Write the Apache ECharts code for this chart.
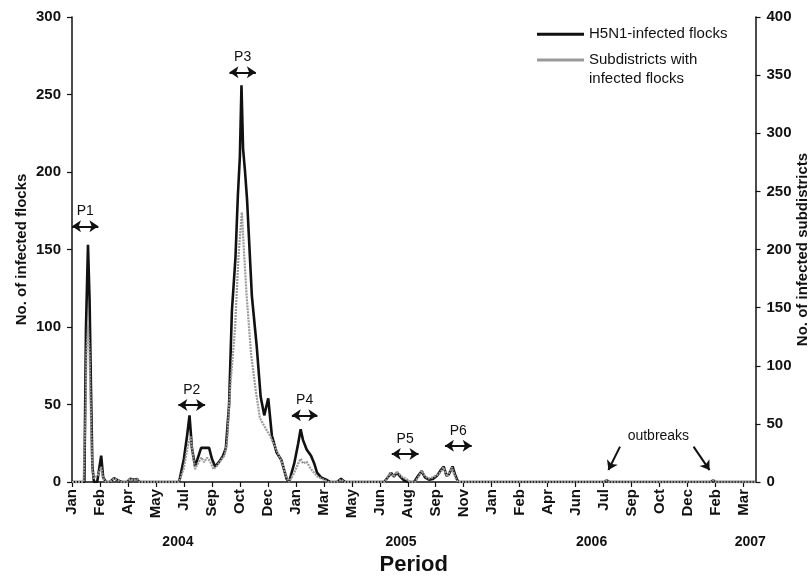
<!DOCTYPE html>
<html>
<head>
<meta charset="utf-8">
<script src="https://cdn.jsdelivr.net/npm/echarts@6/dist/echarts.min.js"></script>
<style>html,body{margin:0;padding:0;background:#fff}#c{width:812px;height:580px}</style>
</head>
<body>
<div id="c"></div>
<script>
// ---- tick labels ----
const monthLabels = ['Jan','Feb','Apr','May','Jul','Sep','Oct','Dec','Jan','Mar','May','Jun','Aug','Sep','Nov','Jan','Feb','Apr','Jun','Jul','Sep','Oct','Dec','Feb','Mar'];
const monthTickWeeks = [0,7,14,21,28,35,42,49,56,63,70,77,84,91,98,105,112,119,126,133,140,147,154,161,168];
const yearLabels = ['2004','2005','2006','2007'];
const yearLabelWeeks = [26.5, 82.3, 130.0, 169.7];

// ---- series: [week since Jan 2004, value] ----
const flocks = [
  [0,0],[3.1,0],[3.5,100],[4.0,153],[4.4,117],[4.75,60],[5.1,10],[5.5,0],[6.3,0],[7.3,17],[7.8,3],[8.5,0],
  [9.5,0],[10.5,2.5],[11.5,1],[12.5,0],[13.8,0],[14.5,2],[15.5,1.5],[16.3,2],[16.8,0],
  [26.8,0],[28.0,15],[28.8,30],[29.4,43],[30.0,22],[30.8,10],[31.8,18],[32.3,22],[34.3,22],[35.0,15],[35.8,10],
  [36.8,13],[37.8,17],[38.5,22],[39.3,50],[40.0,110],[40.9,145],[41.5,185],[42.0,210],[42.4,256],[42.8,215],
  [43.3,200],[43.8,182],[45.0,120],[46.2,88],[47.2,55],[48.1,43],[49.1,54],[50.0,30],[51.2,19],[52.4,14],[53.7,2],
  [54.3,0],[55.6,12],[56.6,25],[57.2,34],[57.8,27],[58.7,21],[59.8,17],[60.6,12],[61.3,6],[62.3,3],[63.6,1.5],[64.6,0],
  [66.3,0],[67.3,2],[68.3,0],
  [78.1,0],[79.3,4],[79.8,6],[80.5,3.5],[81.3,6],[82.3,3],[83.1,1],[84.1,0],[85.6,0],[86.6,4],[87.5,7],[88.3,3],
  [89.3,1.5],[90.3,2],[91.3,4],[92.1,7],[93.0,10],[93.7,4],[94.3,5],[95.2,10],[95.8,5],[96.6,0],
  [133.2,0],[133.8,1],[134.4,0],[159.8,0],[160.4,1],[161.0,0],[171,0]
];
const subdistricts = [
  [0,0],[2.9,0],[3.4,60],[3.6,110],[4.0,135],[4.4,110],[4.75,55],[5.1,10],[5.5,3],[6.0,2],[6.5,6],[7.3,13],[7.8,3],[8.5,0],
  [9.5,0],[10.5,3],[11.5,1.5],[12.5,0],[13.8,0],[14.5,2.5],[15.5,1.5],[16.3,2.5],[16.8,0],
  [26.8,0],[28.0,12],[28.9,30],[29.7,39],[30.3,22],[30.8,11],[31.5,16],[32.4,21],[33.0,17],[33.8,21],[34.5,18],
  [35.4,11],[36.3,14],[37.3,19],[38.2,23],[38.8,35],[39.5,77],[40.8,133],[41.6,191],[42.2,220],[42.5,232],
  [43.0,200],[43.7,160],[44.8,110],[46.0,78],[47.0,55],[48.3,47],[49.5,40],[51.1,28],[52.5,17],[53.6,5],
  [54.3,0],[55.6,8],[56.6,16],[57.2,20],[57.8,16],[58.7,17.5],[59.6,12],[60.3,9],[61.3,5],[62.1,3.4],[63.3,1.5],[64.1,0],
  [66.3,0],[67.3,2],[68.3,0],
  [78.3,0],[79.6,8],[80.4,4.6],[81.3,9],[82.5,4.6],[83.8,2.3],[84.6,0],[85.8,0],[86.6,4],[87.5,9.7],[88.3,5],
  [89.2,3],[90.3,4],[91.3,6],[92.1,8],[92.9,12.6],[93.9,4.6],[95.0,12.6],[96.1,2.3],[96.6,0],
  [133.1,0],[133.8,1.5],[134.4,0],[159.8,0],[160.4,1.5],[161.0,0],[171,0]
];

// ---- annotations ----
const periodNames = ['P1','P2','P3','P4','P5','P6'];
const periodStart = [0, 26.6, 39.4, 55.0, 80.0, 93.3];
const periodEnd   = [6.6, 33.3, 46.0, 61.4, 86.7, 100.0];
const periodLevel = [165, 49.7, 264.3, 43, 18, 23.4];
const outbreakArrowsFrom = [[137.1, 22.8],[155.5, 22.8]];
const outbreakArrowsTo   = [[134.2, 7.7],[159.5, 7.7]];
const outbreakLabelAt = [146.7, 29.7];

const FONT = 'Liberation Sans, Arial, sans-serif';
const chart = echarts.init(document.getElementById('c'));

const markLines = [];
periodNames.forEach((n, i) => {
  markLines.push([
    {name: n, coord: [periodStart[i], periodLevel[i]], symbol: 'arrow'},
    {coord: [periodEnd[i], periodLevel[i]], symbol: 'arrow'}
  ]);
});
outbreakArrowsFrom.forEach((f, i) => {
  markLines.push([
    {name: '', coord: f, symbol: 'none', label: {show: false}},
    {coord: outbreakArrowsTo[i], symbol: 'arrow'}
  ]);
});

chart.setOption({
  animation: false,
  textStyle: {fontFamily: FONT},
  grid: {left: 72, right: 56.5, top: 17, bottom: 98, outerBoundsMode: 'none', containLabel: false},
  legend: [
    {
      orient: 'vertical', left: 537, top: 24.8, padding: 0, itemWidth: 47, itemHeight: 3, icon: 'rect',
      data: ['H5N1-infected flocks'],
      textStyle: {fontSize: 15, color: '#111', fontFamily: FONT, lineHeight: 19}
    },
    {
      orient: 'vertical', left: 537, top: 31.5, padding: 0, itemWidth: 47, itemHeight: 3, icon: 'rect',
      data: ['Subdistricts with\ninfected flocks'],
      formatter: name => '\n' + name,
      textStyle: {fontSize: 15, color: '#111', fontFamily: FONT, lineHeight: 19}
    }
  ],
  xAxis: [
    {
      type: 'value', min: 0, max: 171,
      name: 'Period', nameLocation: 'middle', nameGap: 72, nameMoveOverlap: false,
      nameTextStyle: {fontSize: 22, fontWeight: 'bold', color: '#111', fontFamily: FONT},
      axisLine: {show: true, onZero: false, lineStyle: {color: '#111', width: 1.5}},
      axisTick: {show: true, length: 5, lineStyle: {color: '#111', width: 1.2}, customValues: monthTickWeeks},
      axisLabel: {
        customValues: monthTickWeeks, rotate: 90, margin: 7, fontSize: 15, fontWeight: 'bold', color: '#111',
        formatter: v => monthLabels[monthTickWeeks.indexOf(v)] || ''
      },
      splitLine: {show: false}
    },
    {
      type: 'value', min: 0, max: 171, position: 'bottom', offset: 45,
      axisLine: {show: false, onZero: false}, axisTick: {show: false}, splitLine: {show: false},
      axisLabel: {
        customValues: yearLabelWeeks, margin: 8, fontSize: 14, fontWeight: 'bold', color: '#111',
        fontFamily: 'Liberation Sans Narrow, Liberation Sans, sans-serif',
        formatter: v => yearLabels[yearLabelWeeks.indexOf(v)] || ''
      }
    }
  ],
  yAxis: [
    {
      type: 'value', min: 0, max: 300, interval: 50, position: 'left',
      name: 'No. of infected flocks', nameLocation: 'middle', nameGap: 43, nameMoveOverlap: false,
      nameTextStyle: {fontSize: 15, fontWeight: 'bold', color: '#111', fontFamily: FONT},
      axisLine: {show: true, onZero: false, lineStyle: {color: '#111', width: 1.5}},
      axisTick: {show: true, length: 5, lineStyle: {color: '#111', width: 1.2}},
      axisLabel: {margin: 11, fontSize: 15, fontWeight: 'bold', color: '#111'},
      splitLine: {show: false}
    },
    {
      type: 'value', min: 0, max: 400, interval: 50, position: 'right',
      name: 'No. of infected subdistricts', nameLocation: 'middle', nameGap: 40, nameMoveOverlap: false,
      nameTextStyle: {fontSize: 15, fontWeight: 'bold', color: '#111', fontFamily: FONT},
      axisLine: {show: true, onZero: false, lineStyle: {color: '#111', width: 1.5}},
      axisTick: {show: true, length: 5, lineStyle: {color: '#111', width: 1.2}},
      axisLabel: {margin: 11, fontSize: 15, fontWeight: 'bold', color: '#111'},
      splitLine: {show: false}
    }
  ],
  series: [
    {
      name: 'H5N1-infected flocks', type: 'line', xAxisIndex: 0, yAxisIndex: 0,
      data: flocks, symbol: 'none', silent: true,
      lineStyle: {color: '#111', width: 2.6},
      itemStyle: {color: '#111'},
      markLine: {
        silent: true, symbolSize: [9, 9],
        lineStyle: {color: '#111', width: 2, type: 'solid'},
        label: {show: true, position: 'middle', formatter: p => p.name, fontSize: 14, color: '#111', distance: 8, fontFamily: FONT},
        emphasis: {disabled: true},
        data: markLines
      },
      markPoint: {
        silent: true, symbol: 'circle', symbolSize: 0,
        label: {show: true, position: 'inside', formatter: 'outbreaks', fontSize: 14, color: '#111', fontFamily: FONT},
        data: [{coord: outbreakLabelAt}]
      }
    },
    {
      name: 'Subdistricts with\ninfected flocks', type: 'line', xAxisIndex: 0, yAxisIndex: 1,
      data: subdistricts, symbol: 'none', silent: true,
      lineStyle: {color: '#9a9a9a', width: 2.2, type: [2, 1]},
      itemStyle: {color: '#9a9a9a'}
    }
  ]
});
</script>
</body>
</html>
